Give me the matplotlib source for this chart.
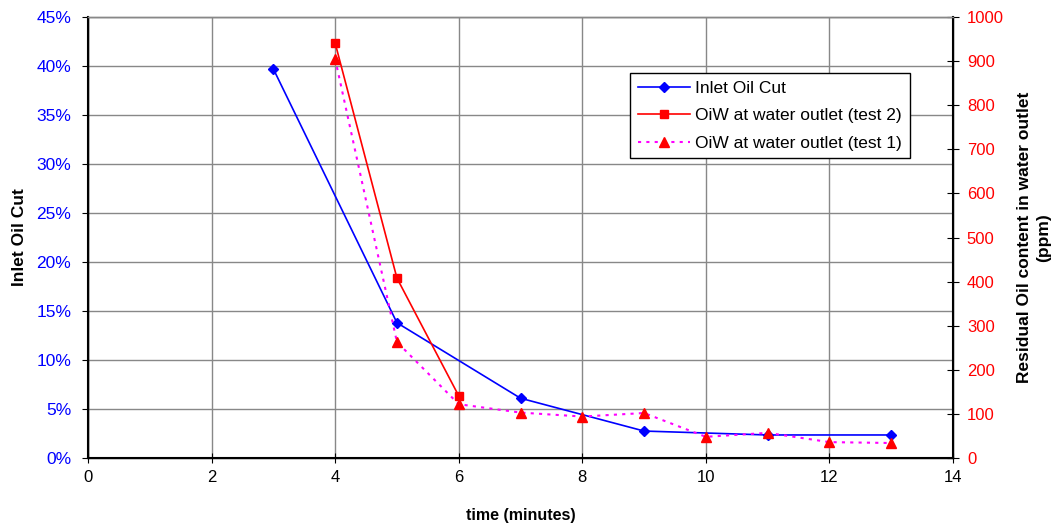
import matplotlib
matplotlib.use("Agg")
import matplotlib.pyplot as plt
from matplotlib.ticker import FuncFormatter, MultipleLocator

plt.rcParams['font.family'] = ['Liberation Sans', 'DejaVu Sans']

inlet_t = [3, 5, 7, 9, 11, 13]
inlet_cut = [0.397, 0.138, 0.061, 0.0275, 0.0235, 0.0235]

test2_t = [4, 5, 6]
test2_ppm = [941, 408, 141]

test1_t = [4, 5, 6, 7, 8, 9, 10, 11, 12, 13]
test1_ppm = [905, 263, 122, 103, 94, 102, 48, 57, 36, 34]

fig = plt.figure(figsize=(10.55, 5.24), dpi=100)
ax = fig.add_axes([88/1055, 1 - 458/524, (953-88)/1055, (458-17)/524])
ax2 = ax.twinx()

l1, = ax.plot(inlet_t, inlet_cut, color='#0000FF', lw=1.2, marker='D', ms=5,
              label='Inlet Oil Cut', zorder=3)
l2, = ax2.plot(test2_t, test2_ppm, color='#FF0000', lw=1.2, marker='s', ms=6,
               label='OiW at water outlet (test 2)', zorder=3)
l3, = ax2.plot(test1_t, test1_ppm, color='#FF00FF', lw=1.5, ls=(0, (1.5, 2.5)),
               marker='^', ms=7, mfc='#FF0000', mec='#FF0000',
               label='OiW at water outlet (test 1)', zorder=3)

ax.set_xlim(0, 14)
ax.set_ylim(0, 0.45)
ax2.set_ylim(0, 1000)
ax.xaxis.set_major_locator(MultipleLocator(2))
ax.yaxis.set_major_locator(MultipleLocator(0.05))
ax2.yaxis.set_major_locator(MultipleLocator(100))
ax.yaxis.set_major_formatter(FuncFormatter(lambda v, p: f"{v*100:.0f}%"))

ax.grid(True, color='#888888', lw=1.0)
ax.set_axisbelow(True)

ax.tick_params(axis='y', colors='#0000FF', labelsize=12.5, direction='out', length=4, pad=8)
ax.tick_params(axis='y', color='black')
ax.tick_params(axis='x', labelsize=12, direction='inout', length=7, pad=5)
ax2.tick_params(axis='y', labelcolor='#FF0000', labelsize=12, direction='inout', length=8,
                color='black', pad=6)

for a in (ax, ax2):
    for s in a.spines.values():
        s.set_color('black')
        s.set_linewidth(1.0)
ax.spines['top'].set_color('#888888')
ax2.spines['top'].set_color('#888888')
ax.spines['left'].set_linewidth(1.5)
ax2.spines['right'].set_linewidth(1.5)
ax2.spines['bottom'].set_linewidth(1.5)

ax.set_xlabel('time (minutes)', fontsize=11.5, fontweight='bold')
ax.xaxis.set_label_coords(0.5, -(508 - 458) / 441)
ax.set_ylabel('Inlet Oil Cut', fontsize=12.5, fontweight='bold')
ax.yaxis.set_label_coords((27 - 88) / 865, 0.5)
ax2.set_ylabel('Residual Oil content in water outlet\n(ppm)', fontsize=12.5,
               fontweight='bold', linespacing=1.35)
ax2.yaxis.set_label_coords((1017 - 88) / 865, 0.5)

leg = ax2.legend(handles=[l1, l2, l3], loc='upper left',
                 bbox_to_anchor=((630-88)/865, 1 - (73-17)/441),
                 fontsize=12.5, frameon=True, fancybox=False, edgecolor='black',
                 framealpha=1, handlelength=3.0, borderpad=0.45, labelspacing=0.7,
                 handletextpad=0.3, borderaxespad=0)
leg.get_frame().set_linewidth(1.0)

fig.savefig('out.png', dpi=100)
